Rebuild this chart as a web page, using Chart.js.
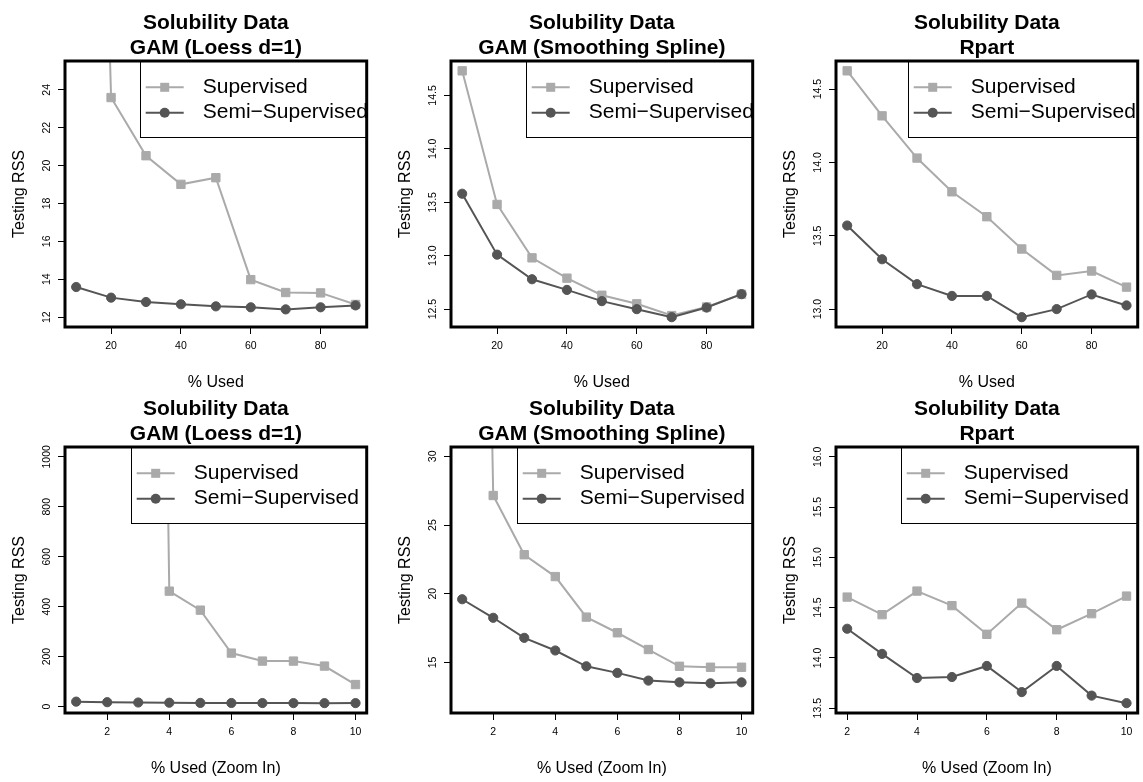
<!DOCTYPE html>
<html>
<head>
<meta charset="utf-8">
<script src="https://cdn.jsdelivr.net/npm/chart.js@4.4.1/dist/chart.umd.min.js"></script>
<style>
  html, body { margin: 0; padding: 0; background: #fff; overflow: hidden; }
  #wrap { position: relative; width: 1143px; height: 782px; overflow: hidden; }
  canvas { position: absolute; }
</style>
</head>
<body>
<div id="wrap"></div>
<script>
// x values (% of training data used)
const pctUsed = [10, 20, 30, 40, 50, 60, 70, 80, 90];
const pctZoom = [1, 2, 3, 4, 5, 6, 7, 8, 9, 10];
const pctZoomRpart = [2, 3, 4, 5, 6, 7, 8, 9, 10];

// testing RSS, top row
const loessSup = [88, 23.59, 20.52, 19.01, 19.36, 13.98, 13.30, 13.28, 12.67];
const loessSemi = [13.59, 13.03, 12.80, 12.68, 12.57, 12.52, 12.41, 12.52, 12.62];
const splineSup = [14.73, 13.48, 12.98, 12.79, 12.63, 12.55, 12.44, 12.52, 12.64];
const splineSemi = [13.58, 13.01, 12.78, 12.68, 12.575, 12.50, 12.425, 12.515, 12.64];
const rpartSup = [14.625, 14.318, 14.03, 13.80, 13.63, 13.41, 13.23, 13.26, 13.15];
const rpartSemi = [13.57, 13.34, 13.17, 13.09, 13.09, 12.945, 13.00, 13.10, 13.025];

// testing RSS, bottom row (zoom in)
const loessZoomSup = [15000, 12000, 9000, 462, 386, 214, 182, 182, 162, 88];
const loessZoomSemi = [19.5, 17.2, 16.0, 15.2, 14.5, 14.1, 13.8, 13.6, 13.5, 13.59];
const splineZoomSup = [150, 27.15, 22.84, 21.25, 18.30, 17.16, 15.94, 14.72, 14.65, 14.65];
const splineZoomSemi = [19.60, 18.25, 16.79, 15.87, 14.72, 14.24, 13.68, 13.55, 13.48, 13.55];
const rpartZoomSup = [14.605, 14.43, 14.665, 14.52, 14.235, 14.545, 14.28, 14.44, 14.615];
const rpartZoomSemi = [14.29, 14.04, 13.80, 13.81, 13.92, 13.66, 13.92, 13.625, 13.55];

// tick labels
const xTicksUsed = [20, 40, 60, 80];
const xTicksZoom = [2, 4, 6, 8, 10];
const yTicksLoess = ['12', '14', '16', '18', '20', '22', '24'];
const yTicksSpline = ['12.5', '13.0', '13.5', '14.0', '14.5'];
const yTicksRpart = ['13.0', '13.5', '14.0', '14.5'];
const yTicksLoessZoom = ['0', '200', '400', '600', '800', '1000'];
const yTicksSplineZoom = ['15', '20', '25', '30'];
const yTicksRpartZoom = ['13.5', '14.0', '14.5', '15.0', '15.5', '16.0'];

const seriesNames = ['Supervised', 'Semi\u2212Supervised'];
const yTitle = 'Testing RSS';

const FONT = "'Liberation Sans', Arial, Helvetica, sans-serif";
const SUP_COLOR = '#aaaaaa';
const SEMI_COLOR = '#555555';

const panels = [
  { col: 0, row: 0, x: pctUsed, sup: loessSup, semi: loessSemi, title: ['Solubility Data', 'GAM (Loess d=1)'],
    xTitle: '% Used', xr: [6.8, 93.2], yr: [11.48, 25.52], xTicks: xTicksUsed, yTicks: yTicksLoess, legendW: 227 },
  { col: 1, row: 0, x: pctUsed, sup: splineSup, semi: splineSemi, title: ['Solubility Data', 'GAM (Smoothing Spline)'],
    xTitle: '% Used', xr: [6.8, 93.2], yr: [12.333, 14.822], xTicks: xTicksUsed, yTicks: yTicksSpline, legendW: 227 },
  { col: 2, row: 0, x: pctUsed, sup: rpartSup, semi: rpartSemi, title: ['Solubility Data', 'Rpart'],
    xTitle: '% Used', xr: [6.8, 93.2], yr: [12.878, 14.692], xTicks: xTicksUsed, yTicks: yTicksRpart, legendW: 230 },
  { col: 0, row: 1, x: pctZoom, sup: loessZoomSup, semi: loessZoomSemi, title: ['Solubility Data', 'GAM (Loess d=1)'],
    xTitle: '% Used (Zoom In)', xr: [0.64, 10.36], yr: [-26, 1039.5], xTicks: xTicksZoom, yTicks: yTicksLoessZoom, legendW: 236 },
  { col: 1, row: 1, x: pctZoom, sup: splineZoomSup, semi: splineZoomSemi, title: ['Solubility Data', 'GAM (Smoothing Spline)'],
    xTitle: '% Used (Zoom In)', xr: [0.64, 10.36], yr: [11.32, 30.68], xTicks: xTicksZoom, yTicks: yTicksSplineZoom, legendW: 236 },
  { col: 2, row: 1, x: pctZoomRpart, sup: rpartZoomSup, semi: rpartZoomSemi, title: ['Solubility Data', 'Rpart'],
    xTitle: '% Used (Zoom In)', xr: [1.68, 10.32], yr: [13.452, 16.098], xTicks: xTicksZoom, yTicks: yTicksRpartZoom, legendW: 237 }
];

const colX = [0, 386, 771];
const rowY = [0, 386];

Chart.defaults.font.family = FONT;

// R-style decorations: titles, rotated y labels, legend with white box, heavy frame
const rDecor = {
  id: 'rDecor',
  afterDraw(chart, args, opts) {
    const ctx = chart.ctx;
    const a = chart.chartArea;
    const ys = chart.scales.y;
    const cx = (a.left + a.right) / 2;
    ctx.save();
    ctx.fillStyle = '#000';
    ctx.textAlign = 'center';
    ctx.textBaseline = 'middle';

    ctx.font = 'bold 21px ' + FONT;
    opts.title.forEach((t, i) => ctx.fillText(t, cx, 23.5 + i * 25));

    ctx.font = '16px ' + FONT;
    ctx.fillText(opts.xTitle, cx, a.bottom + 56);
    ctx.save();
    ctx.translate(20, (a.top + a.bottom) / 2);
    ctx.rotate(-Math.PI / 2);
    ctx.fillText(yTitle, 0, 0);
    ctx.restore();

    ctx.font = '10.5px ' + FONT;
    opts.yTicks.forEach(l => {
      ctx.save();
      ctx.translate(a.left - 18, ys.getPixelForValue(Number(l)));
      ctx.rotate(-Math.PI / 2);
      ctx.fillText(l, 0, 0);
      ctx.restore();
    });

    // legend
    const W = opts.legendW, H = 76;
    const lx = a.right - W, ly = a.top;
    ctx.fillStyle = '#fff';
    ctx.fillRect(lx, ly, W, H);
    ctx.save();
    ctx.beginPath();
    ctx.rect(a.left, a.top, a.right - a.left, a.bottom - a.top);
    ctx.clip();
    const rows = [
      { y: ly + 26.3, color: SUP_COLOR, shape: 'rect' },
      { y: ly + 51.7, color: SEMI_COLOR, shape: 'circle' }
    ];
    rows.forEach((r, i) => {
      ctx.strokeStyle = r.color;
      ctx.lineWidth = 2;
      ctx.beginPath();
      ctx.moveTo(lx + 6, r.y);
      ctx.lineTo(lx + 44, r.y);
      ctx.stroke();
      ctx.fillStyle = r.color;
      if (r.shape === 'rect') {
        ctx.fillRect(lx + 25 - 4.5, r.y - 4.5, 9, 9);
      } else {
        ctx.beginPath();
        ctx.arc(lx + 25, r.y, 5, 0, Math.PI * 2);
        ctx.fill();
      }
      ctx.fillStyle = '#000';
      ctx.font = '21px ' + FONT;
      ctx.textAlign = 'left';
      ctx.fillText(seriesNames[i], lx + 63, r.y);
    });
    ctx.restore();
    ctx.strokeStyle = '#000';
    ctx.lineWidth = 1;
    ctx.strokeRect(Math.round(lx) + 0.5, ly, W, H + 0.5);

    // frame
    ctx.lineWidth = 3;
    ctx.strokeRect(a.left, a.top, a.right - a.left, a.bottom - a.top);
    ctx.restore();
  }
};

const wrap = document.getElementById('wrap');

panels.forEach(p => {
  const canvas = document.createElement('canvas');
  canvas.width = 386;
  canvas.height = 396;
  canvas.style.left = colX[p.col] + 'px';
  canvas.style.top = rowY[p.row] + 'px';
  wrap.appendChild(canvas);

  const tickGrid = { drawOnChartArea: false, drawTicks: true, tickLength: 7, color: '#000', lineWidth: 1 };

  new Chart(canvas.getContext('2d'), {
    type: 'line',
    data: {
      datasets: [
        {
          label: seriesNames[0],
          data: p.x.map((v, i) => ({ x: v, y: p.sup[i] })),
          borderColor: SUP_COLOR,
          backgroundColor: SUP_COLOR,
          borderWidth: 2,
          pointStyle: 'rect',
          pointRadius: 5.9,
          pointBorderWidth: 1,
          pointBackgroundColor: SUP_COLOR,
          pointBorderColor: SUP_COLOR,
          tension: 0,
          order: 1
        },
        {
          label: seriesNames[1],
          data: p.x.map((v, i) => ({ x: v, y: p.semi[i] })),
          borderColor: SEMI_COLOR,
          backgroundColor: SEMI_COLOR,
          borderWidth: 2,
          pointStyle: 'circle',
          pointRadius: 4.6,
          pointBorderWidth: 1,
          pointBackgroundColor: SEMI_COLOR,
          pointBorderColor: SEMI_COLOR,
          tension: 0,
          order: 0
        }
      ]
    },
    options: {
      responsive: false,
      animation: false,
      events: [],
      layout: { padding: { top: 61, right: 19.3, left: 0, bottom: 0 }, autoPadding: false },
      scales: {
        x: {
          type: 'linear',
          min: p.xr[0],
          max: p.xr[1],
          afterBuildTicks: s => { s.ticks = p.xTicks.map(v => ({ value: v })); },
          afterFit: s => { s.height = 69; },
          grid: tickGrid,
          border: { display: false },
          ticks: { color: '#000', font: { size: 10.5 }, padding: 6, maxRotation: 0, autoSkip: false }
        },
        y: {
          type: 'linear',
          min: p.yr[0],
          max: p.yr[1],
          afterBuildTicks: s => { s.ticks = p.yTicks.map(l => ({ value: Number(l) })); },
          afterFit: s => { s.width = 65; },
          grid: tickGrid,
          border: { display: false },
          ticks: { display: false }
        }
      },
      plugins: {
        legend: { display: false },
        tooltip: { enabled: false },
        rDecor: { title: p.title, xTitle: p.xTitle, yTicks: p.yTicks, legendW: p.legendW }
      }
    },
    plugins: [rDecor]
  });
});
</script>
</body>
</html>
